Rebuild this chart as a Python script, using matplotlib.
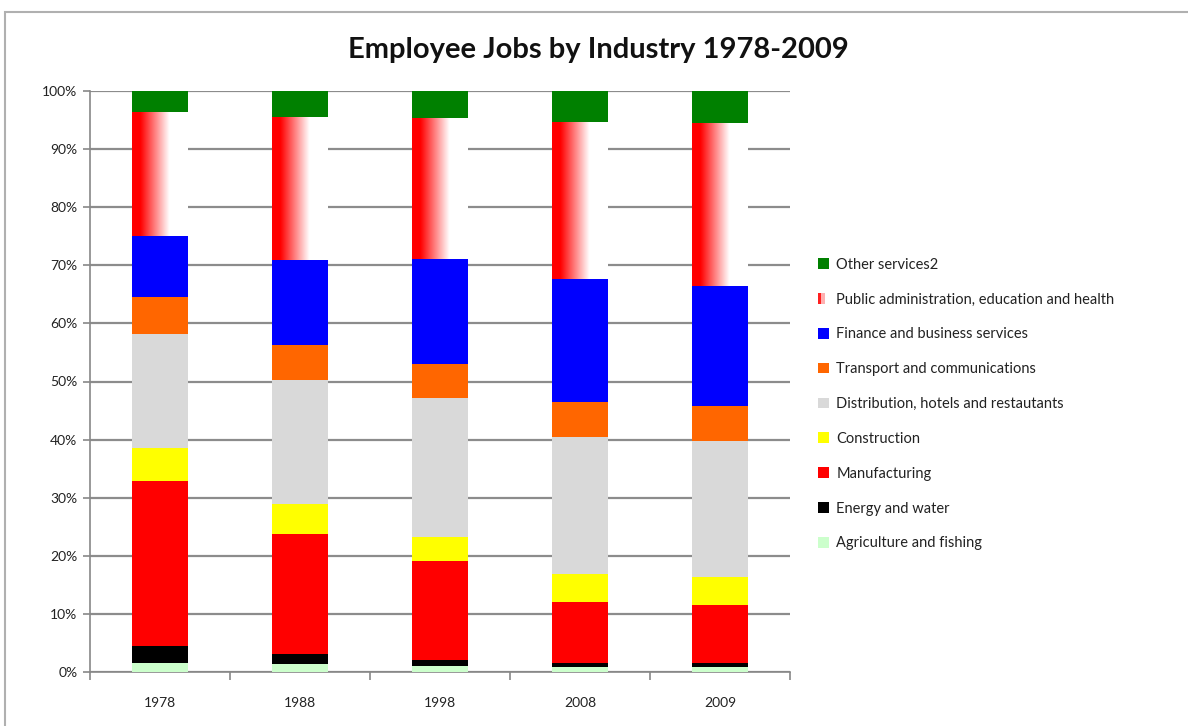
import numpy as np
import matplotlib
matplotlib.use("Agg")
import matplotlib.pyplot as plt
from matplotlib.patches import Rectangle, Patch
from matplotlib.legend_handler import HandlerBase
from matplotlib.colors import LinearSegmentedColormap

plt.rcParams['font.family'] = ['Lato', 'DejaVu Sans']

years = ["1978", "1988", "1998", "2008", "2009"]
industries = [
    "Agriculture and fishing",
    "Energy and water",
    "Manufacturing",
    "Construction",
    "Distribution, hotels and restautants",
    "Transport and communications",
    "Finance and business services",
    "Public administration, education and health",
    "Other services2",
]
agriculture = [1.6, 1.4, 1.1, 0.9, 0.9]
energy = [2.8, 1.7, 1.0, 0.6, 0.6]
manufacturing = [28.5, 20.7, 17.0, 10.6, 10.1]
construction = [5.7, 5.1, 4.2, 4.8, 4.8]
distribution = [19.5, 21.4, 23.9, 23.6, 23.4]
transport = [6.5, 5.9, 5.8, 5.9, 5.9]
finance = [10.5, 14.7, 18.1, 21.2, 20.8]
public = [21.2, 24.6, 24.2, 27.1, 28.0]
other = [3.7, 4.5, 4.7, 5.3, 5.5]

series = [agriculture, energy, manufacturing, construction, distribution,
          transport, finance, public, other]
colors = ["#ccffcc", "#000000", "#ff0000", "#ffff00", "#d9d9d9",
          "#ff6600", "#0000ff", None, "#008000"]

fig = plt.figure(figsize=(11.88, 7.26), dpi=100)
# chart frame
fig.patches.append(Rectangle((5/1188, -0.1), 1.2, (726-12)/726 + 0.1,
                             transform=fig.transFigure, fill=False,
                             edgecolor="#b0b0b0", linewidth=1.5))

ax = fig.add_axes([90/1188, 1-672/726, 700/1188, (672-91)/726])

x = np.arange(len(years))
width = 0.4
bottom = np.zeros(len(years))
grad_cmap = LinearSegmentedColormap.from_list(
    "g", [(0, "#ff0000"), (0.15, "#ff0000"), (0.67, "#ffffff"), (1, "#ffffff")])
grad = np.linspace(0, 1, 256).reshape(1, -1)
handles = []
for vals, col, name in zip(series, colors, industries):
    vals = np.array(vals, dtype=float)
    if col is None:
        bars = ax.bar(x, vals, width, bottom=bottom, color="none",
                      edgecolor="none", zorder=3)
        for b in bars:
            x0, y0 = b.get_x(), b.get_y()
            ax.imshow(grad, cmap=grad_cmap, aspect="auto", zorder=3,
                      extent=(x0, x0 + b.get_width(), y0, y0 + b.get_height()),
                      interpolation="bilinear")
        handles.append(Patch(facecolor="#ff0000", label=name))
    else:
        ax.bar(x, vals, width, bottom=bottom, color=col, edgecolor="none",
               zorder=3)
        handles.append(Patch(facecolor=col, label=name))
    bottom += vals

ax.set_xlim(-0.5, len(years) - 0.5)
ax.set_ylim(0, 100)
ax.set_yticks(np.arange(0, 101, 10))
ax.set_yticklabels([f"{v}%" for v in range(0, 101, 10)], fontsize=10, color="#222222")
ax.set_xticks(x)
ax.set_xticklabels(years, fontsize=10, color="#222222")
ax.set_xticks(np.arange(-0.5, len(years), 1), minor=True)
ax.tick_params(axis="x", which="major", length=0, pad=18)
ax.tick_params(axis="x", which="minor", length=6, color="#888888", width=1.2)
ax.tick_params(axis="y", length=5, color="#888888", width=1.2, pad=4)
ax.grid(axis="y", color="#8c8c8c", linewidth=1.6, zorder=1)
for s in ["top", "right"]:
    ax.spines[s].set_visible(False)
for s in ["left", "bottom"]:
    ax.spines[s].set_color("#888888")
    ax.spines[s].set_linewidth(1.2)


class GradHandler(HandlerBase):
    def create_artists(self, legend, orig_handle, xdescent, ydescent,
                       width, height, fontsize, trans):
        r1 = Rectangle((-xdescent, -ydescent), width * 0.3, height,
                       facecolor="#ff2020", edgecolor="none", transform=trans)
        r2 = Rectangle((-xdescent + width * 0.3, -ydescent), width * 0.3, height,
                       facecolor="#ffb0b0", edgecolor="none", transform=trans)
        return [r1, r2]


leg_handles = handles[::-1]
hmap = {leg_handles[1]: GradHandler()}
leg = fig.legend(handles=leg_handles, loc="center left",
                 bbox_to_anchor=(818/1188, 1-404/726), frameon=False,
                 fontsize=10.5, handlelength=0.75, handleheight=0.75,
                 handletextpad=0.5, labelspacing=1.43, borderpad=0,
                 borderaxespad=0, handler_map=hmap)
for t in leg.get_texts():
    t.set_color("#222222")

fig.text(598/1188, 1-50/726, "Employee Jobs by Industry 1978-2009",
         ha="center", va="center", fontsize=21, fontweight="bold", color="#111111")

fig.savefig("out.png", dpi=100)
